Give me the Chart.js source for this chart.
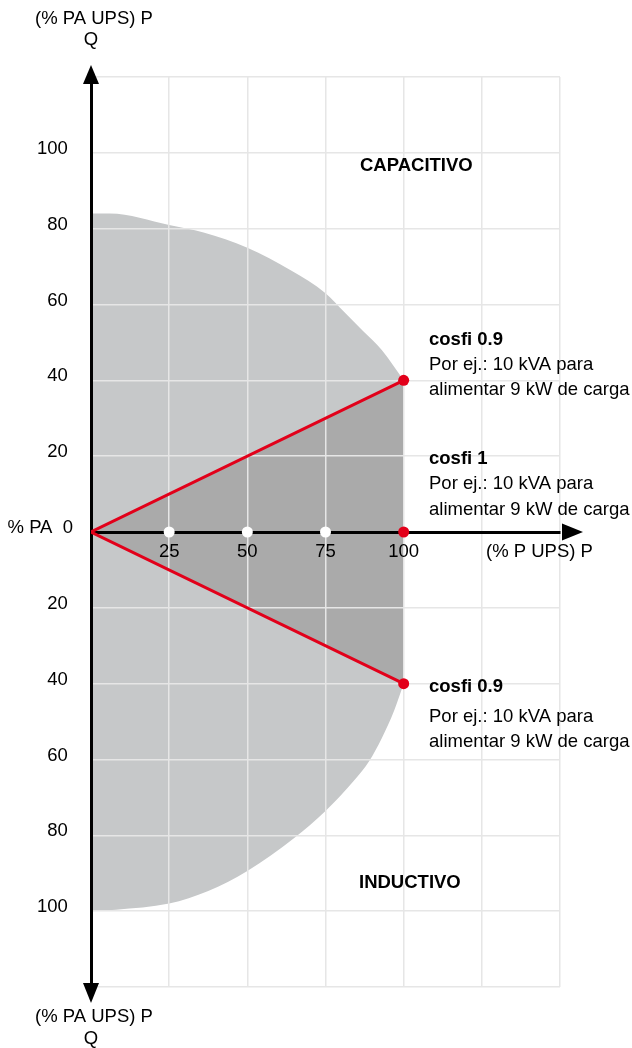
<!DOCTYPE html>
<html>
<head>
<meta charset="utf-8">
<script src="https://cdn.jsdelivr.net/npm/chart.js@4.4.0/dist/chart.umd.min.js"></script>
<style>
  body { margin: 0; background: #fff; }
  #wrap { position: relative; width: 632px; height: 1048px; }
</style>
</head>
<body>
<div id="wrap"><canvas id="myChart"></canvas></div>
<script>
// capacitive border of the working area (upper curve)
var capX = [0, 6, 25, 36, 50, 64, 75, 81, 87, 93, 100];
var capY = [84, 84, 81, 79, 75, 69, 63, 58, 53, 48, 40];
// inductive border (lower curve)
var indX = [0, 8, 25, 37.5, 50, 65, 75, 84, 89, 93, 97, 100];
var indY = [-100, -99.6, -98, -94.7, -89.4, -80.7, -73.6, -65.7, -60.4, -54.4, -47, -40];
// cosfi 0.9 lines
var cosX = [0, 100];
var cosUpY = [0, 40];
var cosDownY = [0, -40];
// points on the P axis
var dotX = [25, 50, 75, 100];
var dotY = [0, 0, 0, 0];
var xLabels = [25, 50, 75, 100];

var red = '#e2001a';
var font = "'Liberation Sans', Arial, sans-serif";
var fs = 18.5;

function pts(xs, ys) {
    var out = [];
    for (var i = 0; i < xs.length; i++) out.push({x: xs[i], y: ys[i]});
    return out;
}

var extras = {
    id: 'extras',
    afterDraw: function(chart) {
        var ctx = chart.ctx;
        var a = chart.chartArea;
        var x0 = chart.scales.x.getPixelForValue(0);
        var y0 = chart.scales.y.getPixelForValue(0);
        ctx.save();
        ctx.fillStyle = '#000';
        // arrow heads
        ctx.beginPath();
        ctx.moveTo(x0, a.top - 12); ctx.lineTo(x0 + 8, a.top + 7); ctx.lineTo(x0 - 8, a.top + 7);
        ctx.closePath(); ctx.fill();
        ctx.beginPath();
        ctx.moveTo(x0, a.bottom + 16); ctx.lineTo(x0 + 8, a.bottom - 4); ctx.lineTo(x0 - 8, a.bottom - 4);
        ctx.closePath(); ctx.fill();
        ctx.beginPath();
        ctx.moveTo(a.right + 23, y0); ctx.lineTo(a.right + 2, y0 - 8.5); ctx.lineTo(a.right + 2, y0 + 8.5);
        ctx.closePath(); ctx.fill();

        // axis names
        ctx.font = fs + 'px ' + font;
        ctx.textBaseline = 'alphabetic';
        ctx.textAlign = 'center';
        ctx.fillText('(% PA UPS) P', x0 + 3, 24);
        ctx.fillText('Q', x0, 45);
        ctx.fillText('(% PA UPS) P', x0 + 3, 1022);
        ctx.fillText('Q', x0, 1044);
        ctx.textAlign = 'left';
        ctx.fillText('(% P UPS) P', 486, 557);

        // notes
        ctx.font = 'bold ' + fs + 'px ' + font;
        ctx.fillText('CAPACITIVO', 360, 171);
        ctx.fillText('INDUCTIVO', 359, 888);
        ctx.fillText('cosfi 0.9', 429, 345);
        ctx.fillText('cosfi 1', 429, 464);
        ctx.fillText('cosfi 0.9', 429, 692);
        ctx.font = fs + 'px ' + font;
        ctx.fillText('Por ej.: 10 kVA para', 429, 370);
        ctx.fillText('alimentar 9 kW de carga', 429, 395);
        ctx.fillText('Por ej.: 10 kVA para', 429, 489);
        ctx.fillText('alimentar 9 kW de carga', 429, 515);
        ctx.fillText('Por ej.: 10 kVA para', 429, 722);
        ctx.fillText('alimentar 9 kW de carga', 429, 747);
        ctx.restore();
    }
};

var ctx = document.getElementById('myChart').getContext('2d');
var chart = new Chart(ctx, {
    type: 'line',
    data: {
        datasets: [{
                data: pts(dotX, dotY),
                showLine: false,
                pointRadius: 5.5,
                pointBorderWidth: 0,
                pointBackgroundColor: ['#fff', '#fff', '#fff', red],
                fill: false
            }, {
                data: pts(cosX, cosUpY),
                borderColor: red,
                borderWidth: 3,
                backgroundColor: '#aaaaaa',
                fill: 'origin',
                pointRadius: [0, 5.5],
                pointBorderWidth: 0,
                pointBackgroundColor: red
            }, {
                data: pts(cosX, cosDownY),
                borderColor: red,
                borderWidth: 3,
                backgroundColor: '#aaaaaa',
                fill: 'origin',
                pointRadius: [0, 5.5],
                pointBorderWidth: 0,
                pointBackgroundColor: red
            }, {
                data: pts(capX, capY),
                borderWidth: 0,
                backgroundColor: '#c6c8c9',
                fill: 'origin',
                pointRadius: 0,
                cubicInterpolationMode: 'monotone'
            }, {
                data: pts(indX, indY),
                borderWidth: 0,
                backgroundColor: '#c6c8c9',
                fill: 'origin',
                pointRadius: 0,
                cubicInterpolationMode: 'monotone'
            }]
    },
    options: {
        responsive: true,
        maintainAspectRatio: false,
        animation: false,
        layout: { padding: { top: 77, right: 72, bottom: 61, left: 0 } },
        plugins: {
            legend: { display: false },
            tooltip: { enabled: false },
            filler: { drawTime: 'beforeDraw' }
        },
        scales: {
            x: {
                type: 'linear',
                min: 0,
                max: 150,
                position: { y: 0 },
                grid: { color: '#e6e6e6', lineWidth: 1.5, drawTicks: false },
                border: { color: '#000', width: 3 },
                ticks: {
                    stepSize: 25,
                    maxRotation: 0,
                    autoSkip: false,
                    padding: 9,
                    color: '#000',
                    font: { size: fs, family: font },
                    callback: function(v) { return xLabels.indexOf(v) >= 0 ? String(v) : ''; }
                }
            },
            y: {
                type: 'linear',
                min: -120,
                max: 120,
                position: 'left',
                afterFit: function(scale) { scale.width = 91; },
                grid: { color: '#e6e6e6', lineWidth: 1.5, drawTicks: false },
                border: { color: '#000', width: 3 },
                ticks: {
                    stepSize: 20,
                    autoSkip: false,
                    padding: 18,
                    labelOffset: -4,
                    color: '#000',
                    font: { size: fs, family: font },
                    // trailing space keeps the numbers left of the "0" label
                    callback: function(v) {
                        if (v === 0) return '% PA  0';
                        if (Math.abs(v) >= 120) return '';
                        return Math.abs(v) + ' ';
                    }
                }
            }
        }
    },
    plugins: [extras]
});
</script>
</body>
</html>
